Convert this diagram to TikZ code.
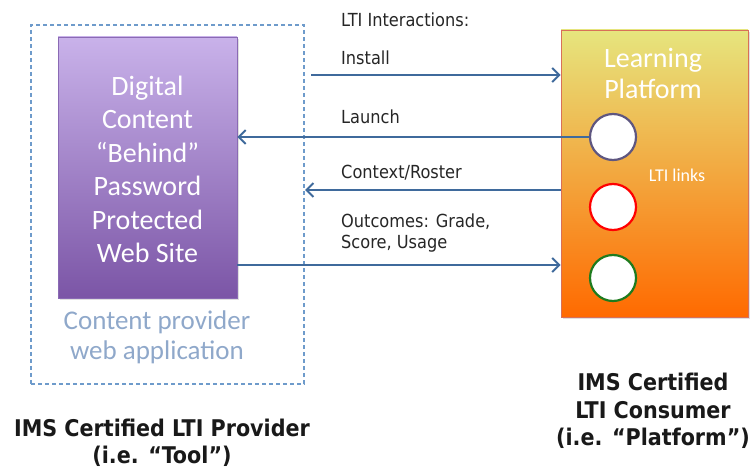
\documentclass[tikz,border=0pt]{standalone}
\usepackage{fontspec}
\setmainfont{DejaVu Sans Condensed}
\newfontfamily\calib{Carlito}
\usetikzlibrary{arrows.meta,shadows}

\definecolor{sitetop}{HTML}{C9B2EA}
\definecolor{sitebot}{HTML}{7B55A6}
\definecolor{siteline}{HTML}{8A6AB4}
\definecolor{lptop}{HTML}{E6E57E}
\definecolor{lpbot}{HTML}{FF6A00}
\definecolor{lpline}{HTML}{D87058}
\definecolor{dashblue}{HTML}{6E9BCB}
\definecolor{apptext}{HTML}{8FA8CA}
\definecolor{arrowblue}{HTML}{3F6A9C}
\definecolor{ringgray}{HTML}{5E5680}
\definecolor{ringgreen}{HTML}{1E7B1E}

\tikzset{
  flow/.style={draw=arrowblue,line width=2pt,
    -{Straight Barb[length=7pt,width=14pt]}},
  flowlabel/.style={anchor=base west,inner sep=0pt,font=\fontsize{18}{21}\selectfont,text=black!85},
  ltiring/.style={circle,fill=white,line width=2.2pt,minimum size=46pt,inner sep=0pt},
  certlabel/.style={align=center,font=\fontsize{23}{27.5}\selectfont\bfseries,text=black!90},
  boxshadow/.style={drop shadow={opacity=0.25,shadow xshift=2pt,shadow yshift=-2pt}}
}

\begin{document}
\begin{tikzpicture}[x=1pt,y=-1pt]
\useasboundingbox (0,0) rectangle (752,470);
% provider side
\node[draw=dashblue,dash pattern=on 4pt off 3pt,line width=1.2pt,
  minimum width=273pt,minimum height=359pt] (app) at (167.5,204.5) {};
\node[boxshadow,draw=siteline,line width=0.6pt,top color=sitetop,bottom color=sitebot,
  minimum width=179pt,minimum height=261pt] (site) at (147.5,167.5) {};
\node[align=center,text=white,font=\calib\fontsize{28}{33.5}\selectfont] (sitetext)
  at (147.5,169.5) {Digital\\Content\\“Behind”\\Password\\Protected\\Web Site};
\node[align=center,text=apptext,font=\calib\fontsize{27}{30}\selectfont] (apptitle)
  at (157,337) {Content provider\\web application};
\node[certlabel] (provider) at (162,443) {IMS Certified LTI Provider\\(i.e. “Tool”)};

% consumer side
\node[boxshadow,draw=lpline,line width=0.8pt,top color=lptop,bottom color=lpbot,
  minimum width=187pt,minimum height=287pt] (lp) at (654.5,173.5) {};
\node[align=center,text=white,font=\calib\fontsize{28}{31}\selectfont] (lptitle)
  at (653,73) {Learning\\Platform};
\node[ltiring,draw=ringgray] (lt1) at (613,137) {};
\node[ltiring,draw=red] (lt2) at (613,207) {};
\node[ltiring,draw=ringgreen] (lt3) at (613,278) {};
\node[text=white,font=\calib\fontsize{18}{20}\selectfont] (ltilinks) at (677,175) {LTI links};
\node[certlabel] (consumer) at (653,411) {IMS Certified\\LTI Consumer\\(i.e. “Platform”)};

% interactions
\node[flowlabel] (ltihead) at (341,26.5) {LTI Interactions:};
\coordinate (inst) at (311,75);
\draw[flow] (inst) -- (inst -| lp.west);
\node[flowlabel] (instlabel) at (341,65) {Install};
\draw[flow] (lt1.west) -- (lt1.west -| site.east);
\node[flowlabel] (launchlabel) at (341,124) {Launch};
\coordinate (ctx) at (305,190);
\draw[flow] (ctx -| lp.west) -- (ctx);
\node[flowlabel] (ctxlabel) at (341,179) {Context/Roster};
\coordinate (outc) at (0,265);
\draw[flow] (site.east |- outc) -- (lp.west |- outc);
\node[flowlabel,align=left,anchor=north west] (outlabel) at (341,214)
  {Outcomes: Grade,\\Score, Usage};
\end{tikzpicture}
\end{document}
